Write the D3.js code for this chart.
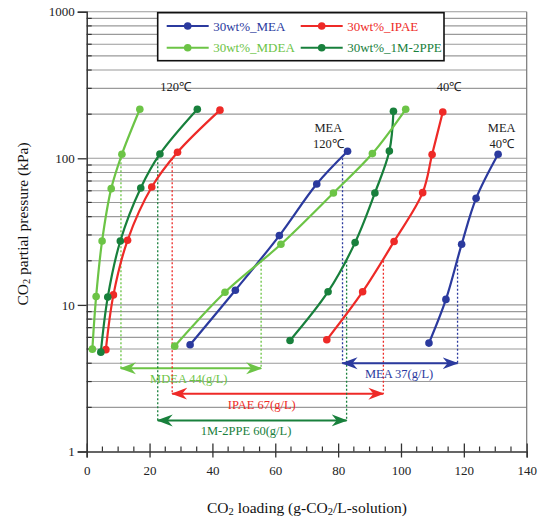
<!DOCTYPE html>
<html>
<head>
<meta charset="utf-8">
<script src="https://cdn.jsdelivr.net/npm/d3@7"></script>
<style>
  body { margin: 0; background: #fff; }
  svg { display: block; font-family: "Liberation Serif", "Times New Roman", serif; }
</style>
</head>
<body>
<div id="chart"></div>
<script>
// Series: loading (g-CO2/L) vs CO2 partial pressure (kPa)
const seriesNames = ['30wt%_MEA', '30wt%_IPAE', '30wt%_MDEA', '30wt%_1M-2PPE'];
const seriesColors = ['#2b3a9e', '#ee2a27', '#6cc446', '#18803c'];

const mea40X = [108.9, 114.3, 119.3, 123.9, 130.9];
const mea40Y = [5.49, 10.9, 25.9, 53.3, 106.5];
const mea120X = [32.9, 47.3, 61.3, 73.2, 83.0];
const mea120Y = [5.35, 12.6, 29.7, 66.8, 111.6];
const ipae40X = [76.4, 87.8, 97.8, 106.9, 109.9, 113.3];
const ipae40Y = [5.78, 12.3, 27.1, 58.3, 106, 207];
const ipae120X = [6.1, 8.5, 13.0, 20.7, 28.9, 42.4];
const ipae120Y = [4.95, 11.7, 27.6, 63.7, 110, 213];
const mdea40X = [28.0, 44.0, 61.8, 78.5, 90.9, 101.5];
const mdea40Y = [5.23, 12.2, 25.9, 58, 107.7, 216];
const mdea120X = [1.8, 3.0, 4.9, 7.8, 11.2, 16.9];
const mdea120Y = [4.99, 11.4, 27.3, 62.1, 106.5, 216];
const ppe40X = [64.7, 76.8, 85.4, 91.7, 96.3, 97.6];
const ppe40Y = [5.72, 12.3, 26.6, 58, 112, 209];
const ppe120X = [4.5, 6.7, 10.7, 17.2, 23.3, 35.2];
const ppe120Y = [4.76, 11.3, 27.3, 62.7, 107, 216];

// cyclic capacity: lean loading at 100 kPa (120C), rich loading at 20 kPa (40C)
const capNames = ['MDEA 44(g/L)', 'IPAE 67(g/L)', '1M-2PPE 60(g/L)', 'MEA 37(g/L)'];
const capSeries = [2, 1, 3, 0];
const capLean = [10.9, 27.2, 22.6, 81.4];
const capRich = [55.5, 94.4, 82.7, 118.0];
const capLeanP = [100, 100, 100, 100];
const capRichP = [20, 20, 20, 20];
const capArrowP = [3.69, 2.48, 1.63, 4.0];
const capLabelX = [32.5, 55.7, 50.7, 99.4];

const xTicks = [0, 20, 40, 60, 80, 100, 120, 140];
const yTicks = [1, 10, 100, 1000];

const W = 542, H = 519;
const svg = d3.select('#chart').append('svg').attr('width', W).attr('height', H);

const x = d3.scaleLinear().domain([0, 140]).range([86.7, 526.7]);
const y = d3.scaleLog().domain([1, 1000]).range([451.5, 11.7]);

// horizontal gridlines at every 1..9 x decade
const gridVals = [];
for (let e = 0; e < 3; e++) for (let m = 1; m <= 9; m++) gridVals.push(m * Math.pow(10, e));
gridVals.push(1000);
svg.append('g').selectAll('line').data(gridVals.filter(v => v > 1)).join('line')
  .attr('x1', x(0)).attr('x2', x(140))
  .attr('y1', d => y(d)).attr('y2', d => y(d))
  .attr('stroke', '#9a9a9a').attr('stroke-width', 1.1);

// right frame
svg.append('line').attr('x1', x(140)).attr('x2', x(140)).attr('y1', y(1000)).attr('y2', y(1))
  .attr('stroke', '#777').attr('stroke-width', 1.2);

// y axis
const yAxis = svg.append('g').attr('transform', `translate(${x(0)},0)`)
  .call(d3.axisLeft(y).tickValues(yTicks).tickFormat(d3.format('d')).tickSize(9).tickPadding(3));
yAxis.select('.domain').attr('stroke', '#333').attr('stroke-width', 1.5);
yAxis.selectAll('.tick line').attr('stroke', '#333').attr('stroke-width', 1.3);
yAxis.selectAll('text').attr('font-size', 13).attr('fill', '#222').attr('font-family', 'Liberation Serif');
yAxis.append('g').selectAll('line').data(gridVals.filter(v => !yTicks.includes(v))).join('line')
  .attr('x1', 0).attr('x2', 5).attr('y1', d => y(d)).attr('y2', d => y(d))
  .attr('stroke', '#333').attr('stroke-width', 1.2);

// x axis
const xAxis = svg.append('g').attr('transform', `translate(0,${y(1)})`)
  .call(d3.axisBottom(x).tickValues(xTicks).tickSize(6));
xAxis.select('.domain').attr('stroke', '#333').attr('stroke-width', 1.5);
xAxis.selectAll('.tick line').attr('y1', -8).attr('stroke', '#333').attr('stroke-width', 1.3);
xAxis.selectAll('text').attr('y', 14.5).attr('dy', '0.71em')
  .attr('font-size', 13).attr('fill', '#222').attr('font-family', 'Liberation Serif');
xAxis.append('g').selectAll('line').data(d3.range(5, 140, 5).filter(v => v % 20 !== 0)).join('line')
  .attr('x1', d => x(d)).attr('x2', d => x(d)).attr('y1', -5).attr('y2', 0)
  .attr('stroke', '#333').attr('stroke-width', 1.2);

// arrowhead marker per colour (stealth shape, tip at refX)
const defs = svg.append('defs');
seriesColors.forEach((c, i) => {
  defs.append('marker').attr('id', 'ah' + i)
    .attr('viewBox', '0 -7 16 14').attr('refX', 15).attr('refY', 0)
    .attr('markerWidth', 16).attr('markerHeight', 14).attr('markerUnits', 'userSpaceOnUse')
    .attr('orient', 'auto-start-reverse')
    .append('path').attr('d', 'M16,0 L0,-6 L5,0 L0,6 Z').attr('fill', c);
});

// cyclic capacity dotted lines and arrows
const caps = svg.append('g');
capNames.forEach((name, i) => {
  const c = seriesColors[capSeries[i]];
  caps.append('line').attr('x1', x(capLean[i])).attr('x2', x(capLean[i]))
    .attr('y1', y(capLeanP[i])).attr('y2', y(capArrowP[i]))
    .attr('stroke', c).attr('stroke-width', 1.3).attr('stroke-dasharray', '2,2');
  caps.append('line').attr('x1', x(capRich[i])).attr('x2', x(capRich[i]))
    .attr('y1', y(capRichP[i])).attr('y2', y(capArrowP[i]))
    .attr('stroke', c).attr('stroke-width', 1.3).attr('stroke-dasharray', '2,2');
  caps.append('line').attr('x1', x(capLean[i])).attr('x2', x(capRich[i]))
    .attr('y1', y(capArrowP[i])).attr('y2', y(capArrowP[i]))
    .attr('stroke', c).attr('stroke-width', 2)
    .attr('marker-start', `url(#ah${capSeries[i]})`).attr('marker-end', `url(#ah${capSeries[i]})`);
  caps.append('text').attr('x', x(capLabelX[i])).attr('y', y(capArrowP[i]) + 15)
    .attr('text-anchor', 'middle').attr('font-size', 12.5).attr('fill', c).text(name);
});

// curves
const curves = [
  [mea120X, mea120Y, 0], [mea40X, mea40Y, 0],
  [ipae120X, ipae120Y, 1], [ipae40X, ipae40Y, 1],
  [ppe120X, ppe120Y, 3], [ppe40X, ppe40Y, 3],
  [mdea120X, mdea120Y, 2], [mdea40X, mdea40Y, 2]
];
const line = d3.line().x(d => x(d[0])).y(d => y(d[1])).curve(d3.curveCatmullRom);
const plot = svg.append('g');
curves.forEach(([xs, ys, s]) => {
  const pts = xs.map((v, k) => [v, ys[k]]);
  plot.append('path').datum(pts).attr('d', line).attr('fill', 'none')
    .attr('stroke', seriesColors[s]).attr('stroke-width', 2.2);
  plot.append('g').selectAll('circle').data(pts).join('circle')
    .attr('cx', d => x(d[0])).attr('cy', d => y(d[1])).attr('r', 3.8)
    .attr('fill', seriesColors[s]);
});

// temperature annotations
const ann = svg.append('g').attr('font-size', 12.5).attr('fill', '#222').attr('text-anchor', 'middle');
ann.append('text').attr('x', 175.7).attr('y', 90.5).text('120℃');
ann.append('text').attr('x', 449).attr('y', 90.5).text('40℃');
ann.append('text').attr('x', 328.3).attr('y', 132).text('MEA');
ann.append('text').attr('x', 328.3).attr('y', 148).text('120℃');
ann.append('text').attr('x', 501.7).attr('y', 132).text('MEA');
ann.append('text').attr('x', 501.7).attr('y', 148).text('40℃');

// legend
const lg = svg.append('g');
lg.append('rect').attr('x', 157.7).attr('y', 12.7).attr('width', 286.3).attr('height', 48)
  .attr('fill', '#fff').attr('stroke', '#111').attr('stroke-width', 1.6);
const legPos = [[166.7, 26], [300.7, 26], [166.7, 47.7], [300.7, 47.7]];
seriesNames.forEach((n, i) => {
  const [lx, ly] = legPos[i];
  lg.append('line').attr('x1', lx).attr('x2', lx + 42).attr('y1', ly).attr('y2', ly)
    .attr('stroke', seriesColors[i]).attr('stroke-width', 2);
  lg.append('circle').attr('cx', lx + 21).attr('cy', ly).attr('r', 3.8).attr('fill', seriesColors[i]);
  lg.append('text').attr('x', lx + 46.5).attr('y', ly + 4.5).attr('font-size', 13)
    .attr('fill', seriesColors[i]).text(n);
});

// axis titles
const xt = svg.append('text').attr('x', 307).attr('y', 512.5).attr('text-anchor', 'middle')
  .attr('font-size', 15.5).attr('fill', '#111');
xt.append('tspan').text('CO');
xt.append('tspan').attr('font-size', 10.5).attr('dy', 2).text('2');
xt.append('tspan').attr('dy', -2).text(' loading (g-CO');
xt.append('tspan').attr('font-size', 10.5).attr('dy', 2).text('2');
xt.append('tspan').attr('dy', -2).text('/L-solution)');

const yt = svg.append('text').attr('transform', 'translate(27.5,224) rotate(-90)')
  .attr('text-anchor', 'middle').attr('font-size', 15.5).attr('fill', '#111');
yt.append('tspan').text('CO');
yt.append('tspan').attr('font-size', 10.5).attr('dy', 2).text('2');
yt.append('tspan').attr('dy', -2).text(' partial pressure (kPa)');
</script>
</body>
</html>
